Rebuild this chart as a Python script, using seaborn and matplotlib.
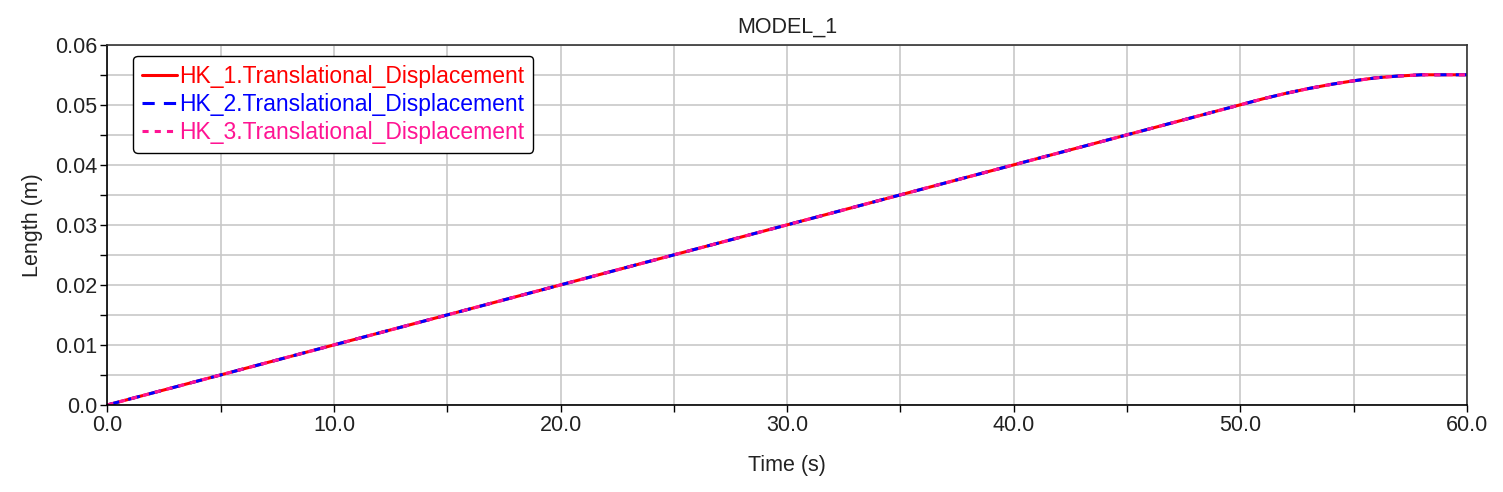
import numpy as np
import pandas as pd
import seaborn as sns
import matplotlib.pyplot as plt
from matplotlib.ticker import MultipleLocator

# data (all three signals lie on top of each other)
time_s = [0.0, 10.0, 20.0, 30.0, 40.0, 45.0, 50.0, 51.0, 52.0, 53.0, 54.0,
          55.0, 56.0, 57.0, 58.0, 59.0, 60.0]
length_m = [0.0, 0.010, 0.020, 0.030, 0.040, 0.045, 0.050, 0.0510, 0.0519,
            0.0527, 0.0534, 0.0540, 0.0545, 0.0548, 0.0550, 0.0550, 0.0550]
series = ["HK_1.Translational_Displacement",
          "HK_2.Translational_Displacement",
          "HK_3.Translational_Displacement"]
x_ticks = [0, 10, 20, 30, 40, 50, 60]
x_labels = ["0.0", "10.0", "20.0", "30.0", "40.0", "50.0", "60.0"]
y_ticks = [0.0, 0.01, 0.02, 0.03, 0.04, 0.05, 0.06]
y_labels = ["0.0", "0.01", "0.02", "0.03", "0.04", "0.05", "0.06"]

df = pd.concat([pd.DataFrame({"Time": time_s, "Length": length_m, "Signal": s})
                for s in series], ignore_index=True)

sns.set_style("white")
plt.rcParams['font.family'] = ['Liberation Sans', 'DejaVu Sans']

colors = ["#ff0000", "#0000ff", "#ff1493"]
fs = 15.5
fig, ax = plt.subplots(figsize=(15.03, 4.92), dpi=100)
fig.subplots_adjust(left=0.0715, right=0.976, top=0.909, bottom=0.177)

sns.lineplot(data=df, x="Time", y="Length", hue="Signal", palette=colors,
             ax=ax, linewidth=2.2, legend=False, sort=False)
styles = ["-", (0, (4, 3)), (0, (2, 2))]
for line, st in zip(ax.get_lines(), styles):
    line.set_linestyle(st)

ax.set_xlim(0, 60)
ax.set_ylim(0, 0.06)
ax.set_xticks(x_ticks)
ax.set_xticklabels(x_labels, fontsize=fs, color="#222222")
ax.set_yticks(y_ticks)
ax.set_yticklabels(y_labels, fontsize=fs, color="#222222")
ax.xaxis.set_minor_locator(MultipleLocator(5))
ax.yaxis.set_minor_locator(MultipleLocator(0.005))
ax.tick_params(which="both", direction="out", bottom=True, left=True,
               color="black", length=5, width=1, pad=2)
ax.grid(True, which="both", color="#c8c8c8", linewidth=1.2)
ax.set_axisbelow(True)
for sp in ax.spines.values():
    sp.set_color("#333333")
    sp.set_linewidth(1.2)
ax.spines["left"].set_color("black")
ax.spines["bottom"].set_color("black")

ax.set_title("MODEL_1", fontsize=fs, pad=9, color="#222222")
ax.set_xlabel("Time (s)", fontsize=fs, labelpad=14, color="#222222")
ax.set_ylabel("Length (m)", fontsize=fs, labelpad=9, color="#222222")

handles = ax.get_lines()
leg = ax.legend(handles, series, loc="upper left", bbox_to_anchor=(0.019, 0.97),
                borderaxespad=0, fontsize=16.5, handlelength=1.5,
                handletextpad=0.1, labelspacing=0.22, borderpad=0.4,
                frameon=True, fancybox=True, framealpha=1, edgecolor="black")
leg.get_frame().set_linewidth(1.0)
for txt, c in zip(leg.get_texts(), colors):
    txt.set_color(c)

fig.savefig("out.png", dpi=100)
